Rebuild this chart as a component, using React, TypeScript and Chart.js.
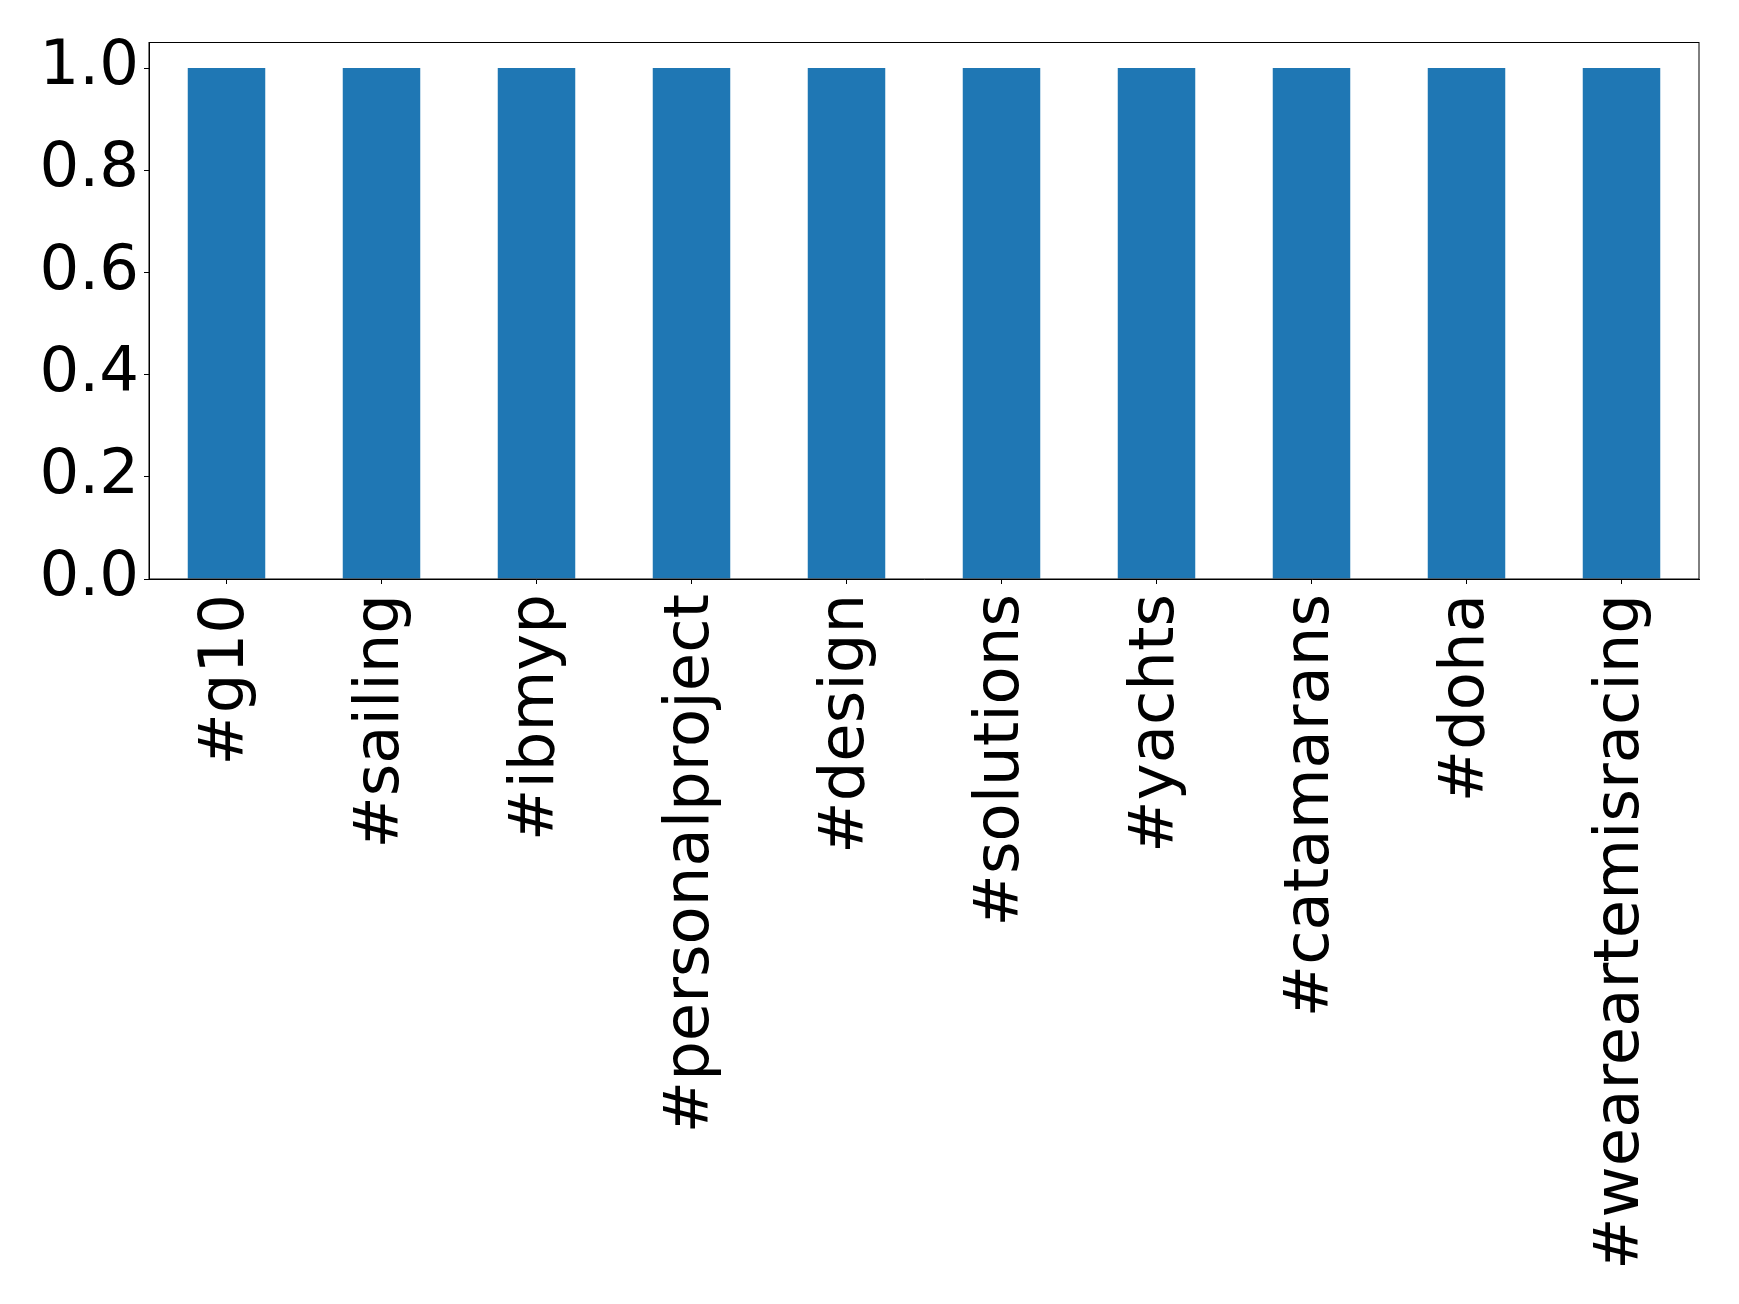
import React, { useEffect, useRef } from "react";
import { Chart, registerables } from "chart.js";

Chart.register(...registerables);

const categories = [
  "#g10",
  "#sailing",
  "#ibmyp",
  "#personalproject",
  "#design",
  "#solutions",
  "#yachts",
  "#catamarans",
  "#doha",
  "#weareartemisracing",
];
const counts = [1, 1, 1, 1, 1, 1, 1, 1, 1, 1];
const yTicks = [0, 0.2, 0.4, 0.6, 0.8, 1.0];

const FONT = "'DejaVu Sans', sans-serif";

const framePlugin = {
  id: "frame",
  afterDraw(chart: any) {
    const { ctx, chartArea } = chart;
    ctx.save();
    ctx.strokeStyle = "#000";
    ctx.lineWidth = 1;
    ctx.strokeRect(chartArea.left, chartArea.top, chartArea.right - chartArea.left, chartArea.bottom - chartArea.top);
    ctx.restore();
  },
};

export default function App() {
  const ref = useRef<HTMLCanvasElement>(null);
  useEffect(() => {
    document.body.style.margin = "0";
    const chart = new Chart(ref.current!, {
      type: "bar",
      data: {
        labels: categories,
        datasets: [
          {
            data: counts,
            backgroundColor: "#1f77b4",
            categoryPercentage: 1,
            barPercentage: 0.5,
          },
        ],
      },
      plugins: [framePlugin],
      options: {
        animation: false,
        responsive: false,
        devicePixelRatio: 1,
        layout: { padding: { top: 40, right: 40, left: 0, bottom: 0 } },
        plugins: { legend: { display: false }, tooltip: { enabled: false } },
        scales: {
          x: {
            offset: true,
            grid: { display: true, offset: false, drawOnChartArea: false, drawTicks: true, tickLength: 5, color: "#000" },
            border: { display: true, color: "#000" },
            ticks: {
              color: "#000",
              font: { family: FONT, size: 62.5 },
              minRotation: 90,
              maxRotation: 90,
              padding: 10,
              autoSkip: false,
            },
            afterFit: (scale: any) => {
              scale.height = 725;
            },
          },
          y: {
            min: 0,
            max: 1.05,
            grid: { display: true, drawOnChartArea: false, drawTicks: true, tickLength: 5, color: "#000" },
            border: { display: true, color: "#000" },
            ticks: {
              color: "#000",
              font: { family: FONT, size: 62.5 },
              padding: 5,
              callback: (v: any) => Number(v).toFixed(1),
            },
            afterBuildTicks: (scale: any) => {
              scale.ticks = yTicks.map((v) => ({ value: v }));
            },
            afterFit: (scale: any) => {
              scale.width = 149;
            },
          },
        },
      },
    });
    return () => chart.destroy();
  }, []);
  return <canvas ref={ref} width={1739} height={1304} style={{ display: "block" }} />;
}
